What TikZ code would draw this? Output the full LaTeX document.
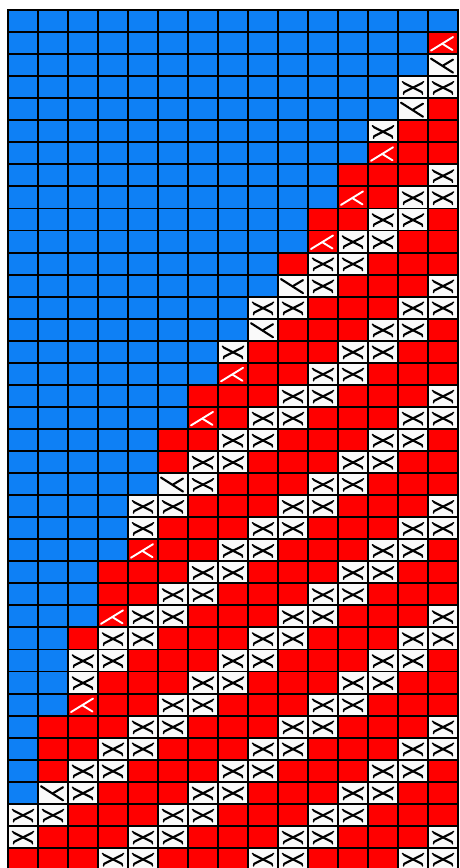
\documentclass[tikz,border=0pt]{standalone}
\definecolor{cblue}{RGB}{14,128,245}
\definecolor{cred}{RGB}{255,0,0}
\definecolor{cwhite}{RGB}{250,250,250}
\tikzset{
  gridline/.style={black,line width=1.9pt},
  xstroke/.style={black,line width=2.1pt,line cap=round},
  tickstroke/.style={black,line width=1.5pt,line cap=round},
  rstroke/.style={white,line width=1.9pt,line cap=round},
  bluecell/.style={fill=cblue},
  redcell/.style={fill=cred},
  whitecell/.style={fill=cwhite}
}
\newcommand\bndlist{{15,14,14,13,13,12,12,11,11,10,10,9,9,8,8,7,7,6,6,5,5,5,4,4,4,3,3,3,2,2,2,2,1,1,1,1,0,0,0}}
\newcommand\xcell[2]{\begin{scope}[shift={(#1,#2)}]
  \path[whitecell] (0,0) rectangle (30,22.05);
  \draw[xstroke] (6,7) -- (24,16);
  \draw[xstroke] (6,16) -- (24,7);
  \draw[tickstroke] (6,7) -- (4.5,5.5);
  \draw[tickstroke] (24,16) -- (24.5,18);
  \draw[tickstroke] (6,16) -- (5.5,18);
  \draw[tickstroke] (24,7) -- (25.5,5.5);
\end{scope}}
\newcommand\hcell[2]{\begin{scope}[shift={(#1,#2)}]
  \path[whitecell] (0,0) rectangle (30,22.05);
  \draw[xstroke] (3,4.5) -- (25,18.5);
  \draw[xstroke] (15,11.5) -- (25,5.5);
\end{scope}}
\newcommand\rcell[2]{\begin{scope}[shift={(#1,#2)}]
  \path[redcell] (0,0) rectangle (30,22.05);
  \draw[rstroke] (3,18.5) -- (25,5);
  \draw[rstroke] (14.5,11.8) -- (24.5,18);
\end{scope}}
\begin{document}
\begin{tikzpicture}[x=1pt,y=-1pt]
\useasboundingbox (0,0) rectangle (459,868);
\clip (0,0) rectangle (459,868);
\fill[white] (0,0) rectangle (459,868);
\foreach \r in {0,...,38}{
  \pgfmathtruncatemacro\bb{\bndlist[\r]}
  \foreach \c in {0,...,14}{
    \pgfmathsetmacro\xa{8+30*\c}
    \pgfmathsetmacro\ya{10+22.05*\r}
    \pgfmathtruncatemacro\mm{mod(\c+\r,5)}
    \ifnum\c<\bb
      \path[bluecell] (\xa,\ya) rectangle ++(30,22.05);
    \else
      \ifnum\mm=1 \xcell{\xa}{\ya}\else
        \ifnum\mm=2 \xcell{\xa}{\ya}\else
          \path[redcell] (\xa,\ya) rectangle ++(30,22.05);
        \fi
      \fi
    \fi
  }
}
\foreach \r/\c in {1/14,6/12,8/11,10/10,16/7,18/6,24/4,27/3,31/2}{
  \pgfmathsetmacro\xa{8+30*\c}
  \pgfmathsetmacro\ya{10+22.05*\r}
  \rcell{\xa}{\ya}
}
\foreach \r/\c in {2/14,4/13,12/9,14/8,21/5,35/1}{
  \pgfmathsetmacro\xa{8+30*\c}
  \pgfmathsetmacro\ya{10+22.05*\r}
  \hcell{\xa}{\ya}
}
\foreach \c in {0,...,15}{
  \draw[gridline] ({8+30*\c},9.05) -- ({8+30*\c},880);
}
\foreach \r in {0,...,39}{
  \draw[gridline] (7.05,{10+22.05*\r}) -- (458.95,{10+22.05*\r});
}
\end{tikzpicture}
\end{document}
